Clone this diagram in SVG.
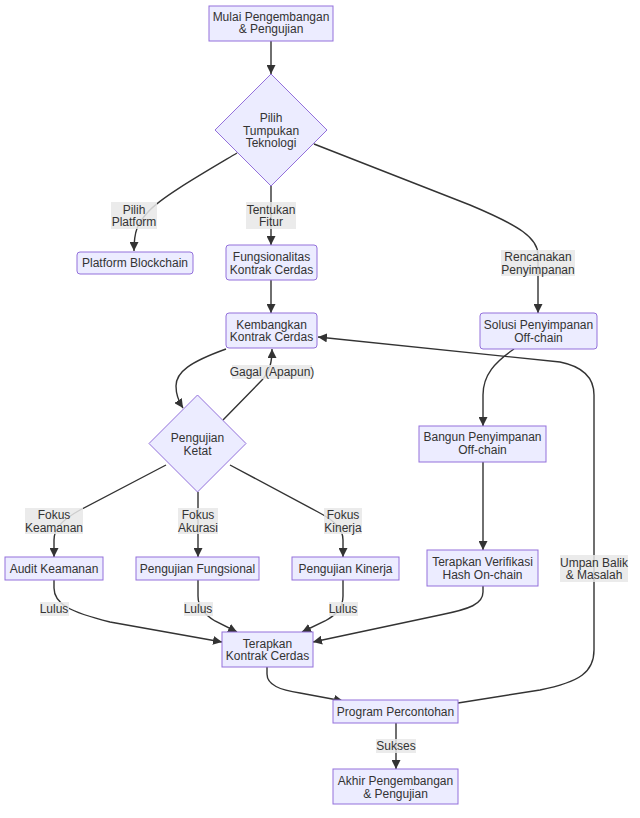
<svg xmlns="http://www.w3.org/2000/svg" width="640" height="818" viewBox="0 0 640 818">
<style>
.n{fill:#ECECFF;stroke:#9370DB;stroke-width:1}
.t{font-family:"Liberation Sans",Arial,sans-serif;font-size:12px;fill:#333;text-anchor:middle}
.e{fill:none;stroke:#333;stroke-width:1.4}
.lb{fill:#e8e8e8;opacity:0.85}
</style>
<defs>
<marker id="ah" viewBox="0 0 10 10" refX="10" refY="5" markerUnits="userSpaceOnUse" markerWidth="9" markerHeight="9" orient="auto">
<path d="M0,0 L10,5 L0,10 z" fill="#333"/>
</marker>
</defs>
<rect width="640" height="818" fill="#fff"/>
<g id="connectors">
<path class="e" marker-end="url(#ah)" d="M271,41 L271,74"/>
<path class="e" marker-end="url(#ah)" d="M237,153 C200,175 160,198 148,212 C138,223 134,230 134,251"/>
<path class="e" marker-end="url(#ah)" d="M271,186 L271,245"/>
<path class="e" marker-end="url(#ah)" d="M314,144 L470,205 C520,226 538,238 538,255 L538,313"/>
<path class="e" marker-end="url(#ah)" d="M271,280 L271,313"/>
<path class="e" marker-end="url(#ah)" d="M226,349 C190,362 176,372 176,386 C176,396 179,402 183,408"/>
<path class="e" marker-end="url(#ah)" d="M223,420 L262,380 C270,371 272,362 272,349"/>
<path class="e" marker-end="url(#ah)" d="M166,465 L80,510 C60,521 54,530 54,540 L54,557"/>
<path class="e" marker-end="url(#ah)" d="M198,492 L198,557"/>
<path class="e" marker-end="url(#ah)" d="M230,465 L318,512 C337,522 343,530 343,540 L343,557"/>
<path class="e" marker-end="url(#ah)" d="M54,580 L54,588 C54,604 70,612 110,622 L222,642"/>
<path class="e" marker-end="url(#ah)" d="M198,580 L198,596 C198,608 205,615 215,621 L237,632"/>
<path class="e" marker-end="url(#ah)" d="M343,580 L343,596 C343,608 336,615 325,621 L302,632"/>
<path class="e" marker-end="url(#ah)" d="M483,586 L483,592 C483,604 470,609 440,615 L313,642"/>
<path class="e" marker-end="url(#ah)" d="M514,349 C495,362 483,375 483,395 L483,426"/>
<path class="e" marker-end="url(#ah)" d="M483,462 L483,550"/>
<path class="e" marker-end="url(#ah)" d="M267,667 L267,674 C267,685 280,690 300,693 L343,701"/>
<path class="e" marker-end="url(#ah)" d="M458,703 L540,690 C580,682 594,672 594,650 L594,395 C594,375 580,366 560,362 L318,337"/>
<path class="e" marker-end="url(#ah)" d="M396,723 L396,769"/>
</g>
<g id="edge-labels">
<rect class="lb" x="111" y="202" width="46" height="27"/>
<text class="t" x="134" y="213.5">Pilih</text><text class="t" x="134" y="226">Platform</text>
<rect class="lb" x="246" y="202" width="50" height="27"/>
<text class="t" x="271" y="213.5">Tentukan</text><text class="t" x="271" y="226">Fitur</text>
<rect class="lb" x="501" y="250" width="74" height="26"/>
<text class="t" x="538" y="261">Rencanakan</text><text class="t" x="538" y="273.5">Penyimpanan</text>
<rect class="lb" x="232" y="365" width="80" height="14"/>
<text class="t" x="272" y="376">Gagal (Apapun)</text>
<rect class="lb" x="25" y="508" width="58" height="26"/>
<text class="t" x="54" y="519">Fokus</text><text class="t" x="54" y="531.5">Keamanan</text>
<rect class="lb" x="178" y="508" width="40" height="26"/>
<text class="t" x="198" y="519">Fokus</text><text class="t" x="198" y="531.5">Akurasi</text>
<rect class="lb" x="324" y="508" width="38" height="26"/>
<text class="t" x="343" y="519">Fokus</text><text class="t" x="343" y="531.5">Kinerja</text>
<rect class="lb" x="40" y="602" width="29" height="14"/>
<text class="t" x="54" y="613">Lulus</text>
<rect class="lb" x="184" y="602" width="29" height="14"/>
<text class="t" x="198" y="613">Lulus</text>
<rect class="lb" x="329" y="602" width="29" height="14"/>
<text class="t" x="343" y="613">Lulus</text>
<rect class="lb" x="560" y="555" width="68" height="27"/>
<text class="t" x="594" y="566.5">Umpan Balik</text><text class="t" x="594" y="579">&amp; Masalah</text>
<rect class="lb" x="376" y="739" width="40" height="14"/>
<text class="t" x="396" y="750">Sukses</text>
</g>
<g id="mulai"><rect class="n" x="209" y="6" width="124" height="35"/>
<text class="t" x="271" y="20.5">Mulai Pengembangan</text><text class="t" x="271" y="33">&amp; Pengujian</text></g>
<g id="pilih"><polygon class="n" points="271,74 327,130 271,186 215,130"/>
<text class="t" x="271" y="122">Pilih</text><text class="t" x="271" y="134.5">Tumpukan</text><text class="t" x="271" y="147">Teknologi</text></g>
<g id="platform"><rect class="n" x="77" y="252" width="116" height="22" rx="3"/>
<text class="t" x="135" y="267">Platform Blockchain</text></g>
<g id="fungsionalitas"><rect class="n" x="226" y="245" width="91" height="35" rx="3"/>
<text class="t" x="271.5" y="261">Fungsionalitas</text><text class="t" x="271.5" y="273.5">Kontrak Cerdas</text></g>
<g id="kembangkan"><rect class="n" x="226" y="313" width="91" height="35" rx="3"/>
<text class="t" x="271.5" y="328.5">Kembangkan</text><text class="t" x="271.5" y="341">Kontrak Cerdas</text></g>
<g id="solusi"><rect class="n" x="480" y="313" width="117" height="36" rx="3"/>
<text class="t" x="538.5" y="329">Solusi Penyimpanan</text><text class="t" x="538.5" y="341.5">Off-chain</text></g>
<g id="ketat"><polygon class="n" points="197.5,395 246,443.5 197.5,492 149,443.5"/>
<text class="t" x="197.5" y="442">Pengujian</text><text class="t" x="197.5" y="454.5">Ketat</text></g>
<g id="audit"><rect class="n" x="5" y="557" width="98" height="23"/>
<text class="t" x="54" y="573">Audit Keamanan</text></g>
<g id="fungsional"><rect class="n" x="136" y="557" width="123" height="23"/>
<text class="t" x="197.5" y="573">Pengujian Fungsional</text></g>
<g id="kinerja"><rect class="n" x="292" y="557" width="107" height="23"/>
<text class="t" x="345.5" y="573">Pengujian Kinerja</text></g>
<g id="terapkan"><rect class="n" x="222" y="632" width="91" height="35"/>
<text class="t" x="267.5" y="647.5">Terapkan</text><text class="t" x="267.5" y="660">Kontrak Cerdas</text></g>
<g id="bangun"><rect class="n" x="419" y="426" width="127" height="36"/>
<text class="t" x="482.5" y="441">Bangun Penyimpanan</text><text class="t" x="482.5" y="453.5">Off-chain</text></g>
<g id="verifikasi"><rect class="n" x="427" y="550" width="111" height="36"/>
<text class="t" x="482.5" y="566">Terapkan Verifikasi</text><text class="t" x="482.5" y="578.5">Hash On-chain</text></g>
<g id="program"><rect class="n" x="333" y="700" width="125" height="23"/>
<text class="t" x="395.5" y="716">Program Percontohan</text></g>
<g id="akhir"><rect class="n" x="333" y="769" width="125" height="35"/>
<text class="t" x="395.5" y="785">Akhir Pengembangan</text><text class="t" x="395.5" y="797.5">&amp; Pengujian</text></g>
</svg>
